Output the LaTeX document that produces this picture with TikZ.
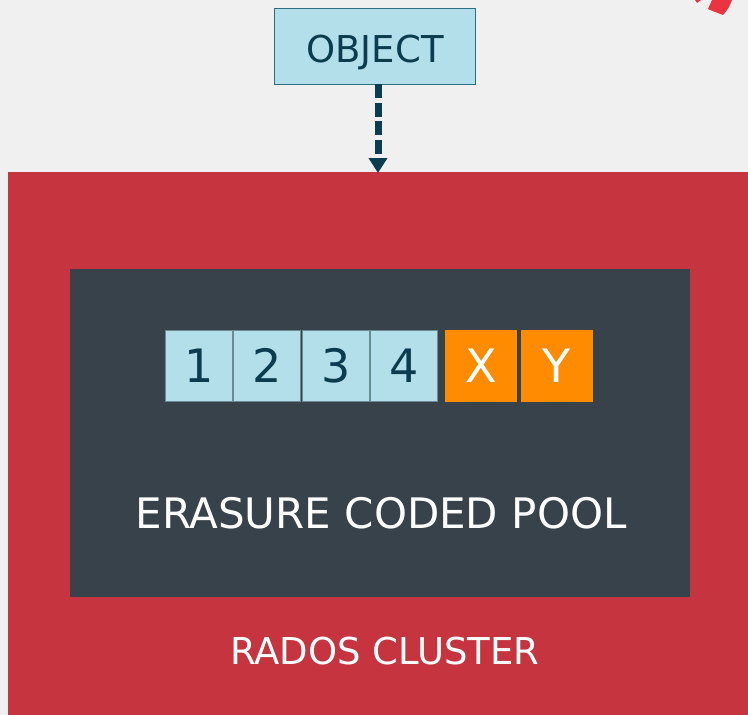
\documentclass[tikz,border=0pt]{standalone}
\usepackage{fontspec}
\setmainfont{DejaVu Sans}
\usetikzlibrary{arrows.meta}
\definecolor{bg}{HTML}{F0F0F0}
\definecolor{clusterred}{HTML}{C5343F}
\definecolor{poolgrey}{HTML}{37424A}
\definecolor{chunkblue}{HTML}{B2DFE9}
\definecolor{chunkedge}{HTML}{6E8A92}
\definecolor{inkteal}{HTML}{0B3C4F}
\definecolor{objedge}{HTML}{2E6E80}
\definecolor{parityorange}{HTML}{FF8C00}
\definecolor{logored}{HTML}{EA3440}
\tikzset{
  region/.style={rectangle, anchor=north west, inner sep=0pt, draw=none},
  datachunk/.style={rectangle, anchor=north west, inner sep=0pt,
    minimum width=67pt, minimum height=71pt, fill=chunkblue,
    draw=chunkedge, line width=0.8pt, text=inkteal,
    font=\fontsize{46}{50}\selectfont},
  paritychunk/.style={datachunk, minimum width=71pt, fill=parityorange,
    draw=parityorange, text=white},
  objbox/.style={rectangle, anchor=north west, inner sep=0pt,
    minimum width=201pt, minimum height=76pt, fill=chunkblue,
    draw=objedge, line width=0.9pt},
  caption/.style={anchor=base, inner sep=0pt, text=white},
  flow/.style={draw=inkteal, line width=7pt, dash pattern=on 14pt off 4.5pt,
    -{Triangle[width=18pt,length=15pt]}},
}
\begin{document}
\begin{tikzpicture}[x=1pt, y=-1pt]
  \useasboundingbox (0,0) rectangle (748,715);
  \fill[bg] (0,0) rectangle (748,715);

  % partial logo ring at the top right corner
  \fill[logored] (712,0) -- (732,0) .. controls (730,6) and (727,11) .. (723,15)
    .. controls (718,13) and (712,11) .. (708,9)
    .. controls (709,6) and (711,3) .. (712,0) -- cycle;
  \fill[logored] (695,0) -- (701,0) -- (697,3) -- cycle;

  % cluster and pool
  \node[region, fill=clusterred, minimum width=740pt, minimum height=543pt]
    (cluster) at (8,172) {};
  \node[region, fill=poolgrey, minimum width=620pt, minimum height=328pt]
    (pool) at (70,269) {};

  % object
  \node[objbox] (object) at (274,8) {};
  \node[anchor=base, inner sep=0pt, text=inkteal,
    font=\fontsize{37}{40}\selectfont] (objlabel) at (375,62.5) {OBJECT};

  \coordinate (arrowtop) at (378,84);
  \coordinate (arrowend) at (378,173);
  \draw[flow] (arrowtop) -- (arrowend);

  % chunks
  \node[datachunk] (c1) at (165,330) {1};
  \node[datachunk] (c2) at (233,330) {2};
  \node[datachunk] (c3) at (302,330) {3};
  \node[datachunk] (c4) at (370,330) {4};
  \node[paritychunk] (cx) at (445,330) {X};
  \node[paritychunk] (cy) at (521,330) {Y};

  % captions
  \node[caption, font=\fontsize{42}{46}\selectfont] (poollabel) at (381,528)
    {ERASURE CODED POOL};
  \node[caption, font=\fontsize{37}{40}\selectfont] (clusterlabel) at (385,664)
    {RADOS CLUSTER};
\end{tikzpicture}
\end{document}
